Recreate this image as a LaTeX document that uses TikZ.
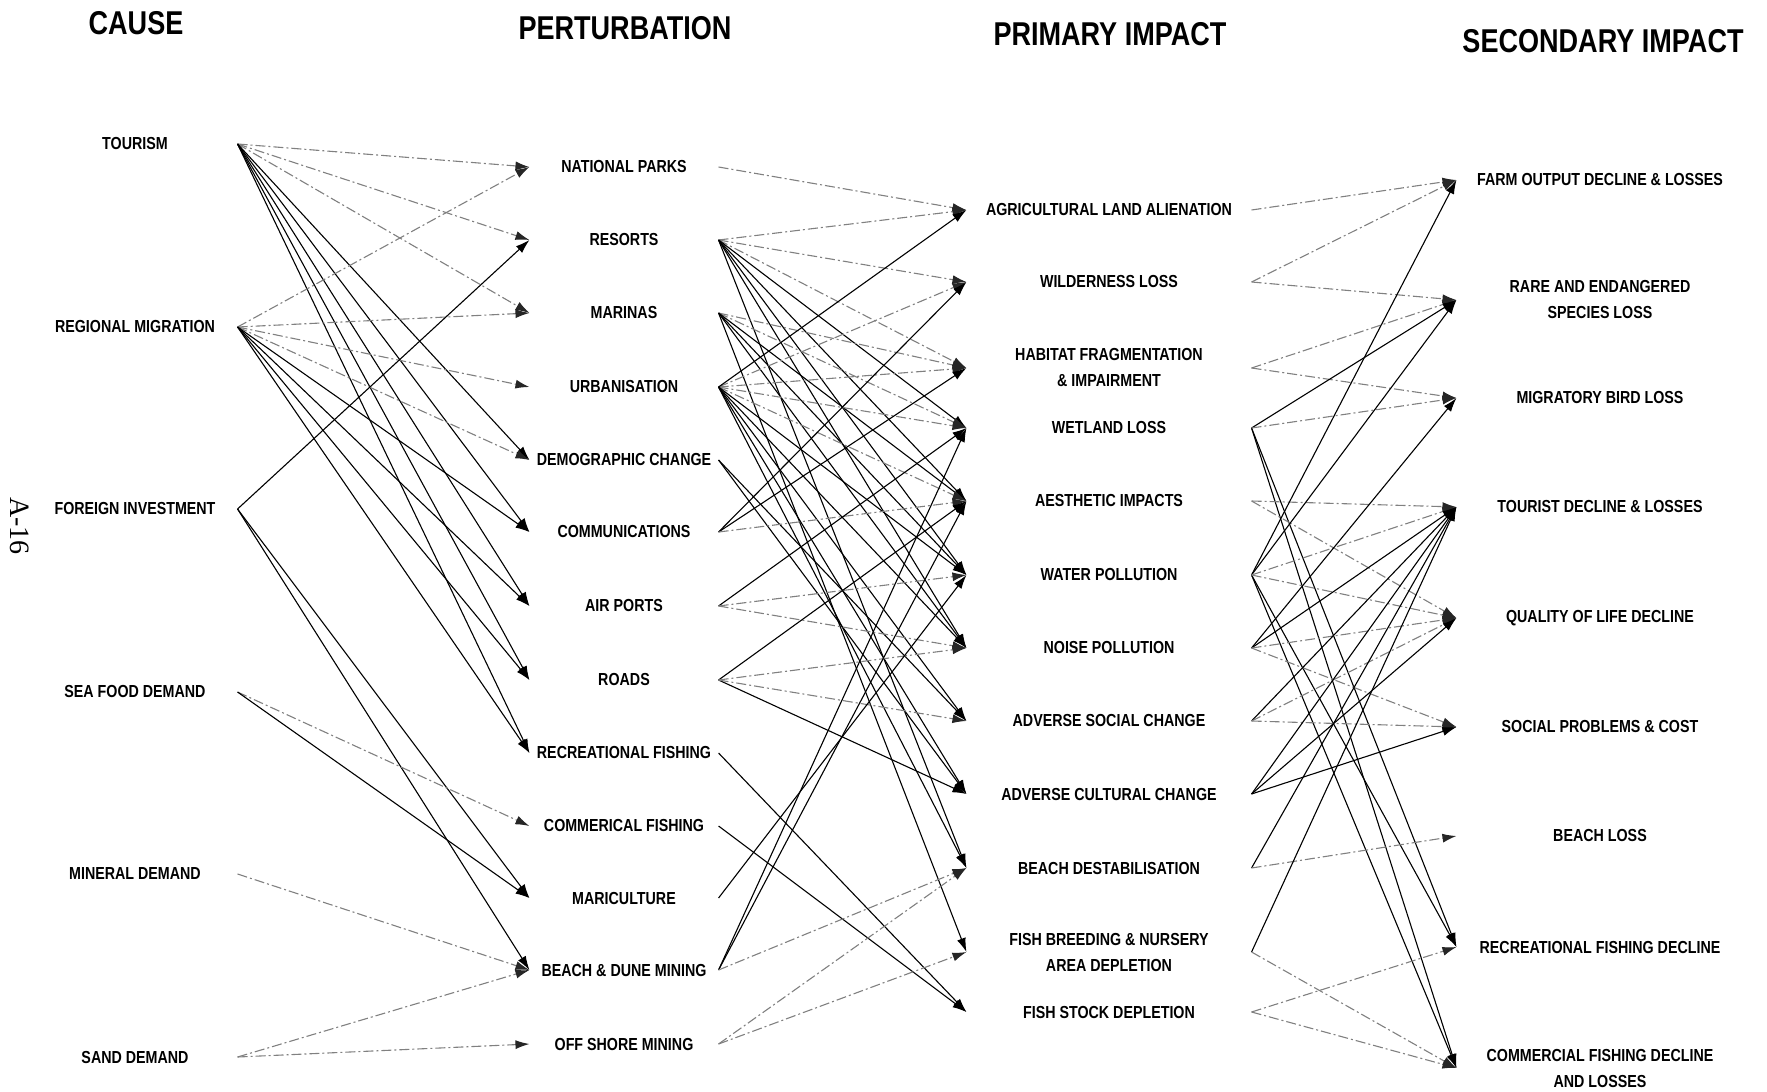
\documentclass[tikz,border=0pt]{standalone}
\usepackage{fontspec}
\newfontfamily\plotter{Liberation Sans}[FakeStretch=0.82]
\newfontfamily\pagefont{Liberation Serif}
\usetikzlibrary{arrows.meta}

\tikzset{every picture/.style={line width=0.55pt}}
\tikzset{
  heading/.style={font=\plotter\bfseries\fontsize{16.5}{18}\selectfont, inner sep=0pt},
  tag/.style={font=\plotter\bfseries\fontsize{8.7}{13}\selectfont, align=center, inner sep=0pt},
  causebox/.style={tag, minimum width=102pt},
  pertbox/.style={tag, minimum width=94pt},
  primbox/.style={tag, minimum width=142pt},
  secbox/.style={tag, minimum width=143pt},
  link/.style={-{Latex[length=7pt,width=4.5pt]}, color=black},
  faint/.style={-{Latex[length=7pt,width=4.5pt,color=black!85]}, color=black!50, dash pattern=on 5pt off 1.5pt on 1pt off 1.5pt}
}

\begin{document}
\begin{tikzpicture}[x=0.5pt,y=0.5pt,yscale=-1,xscale=1]
\useasboundingbox (0,0) rectangle (1767,1092);

% Headings
\node [heading] (hcause) at (136,23) {CAUSE};
\node [heading] (hpert) at (625,28) {PERTURBATION};
\node [heading] (hprim) at (1110,34) {PRIMARY IMPACT};
\node [heading] (hsec) at (1603,41) {SECONDARY IMPACT};
\node [font=\pagefont\fontsize{14}{16}\selectfont, rotate=-90, inner sep=0pt] (pageno) at (20,526) {A-16};

% Cause
\node [causebox] (tour) at (135,144) {TOURISM};
\node [causebox] (regmig) at (135,327) {REGIONAL MIGRATION};
\node [causebox] (forinv) at (135,509) {FOREIGN INVESTMENT};
\node [causebox] (seafood) at (135,692) {SEA FOOD DEMAND};
\node [causebox] (mineral) at (135,874) {MINERAL DEMAND};
\node [causebox] (sand) at (135,1057) {SAND DEMAND};

% Perturbation
\node [pertbox] (natpark) at (624,167) {NATIONAL PARKS};
\node [pertbox] (resort) at (624,240) {RESORTS};
\node [pertbox] (marina) at (624,313) {MARINAS};
\node [pertbox] (urban) at (624,387) {URBANISATION};
\node [pertbox] (demog) at (624,460) {DEMOGRAPHIC CHANGE};
\node [pertbox] (comm) at (624,532) {COMMUNICATIONS};
\node [pertbox] (airport) at (624,606) {AIR PORTS};
\node [pertbox] (road) at (624,680) {ROADS};
\node [pertbox] (recfish) at (624,753) {RECREATIONAL FISHING};
\node [pertbox] (comfish) at (624,826) {COMMERICAL FISHING};
\node [pertbox] (maricult) at (624,898) {MARICULTURE};
\node [pertbox] (beachmin) at (624,970) {BEACH \& DUNE MINING};
\node [pertbox] (offshore) at (624,1044) {OFF SHORE MINING};

% Primary impact
\node [primbox] (agric) at (1109,210) {AGRICULTURAL LAND ALIENATION};
\node [primbox] (wild) at (1109,282) {WILDERNESS LOSS};
\node [primbox] (habitat) at (1109,368) {HABITAT FRAGMENTATION\\\& IMPAIRMENT};
\node [primbox] (wetland) at (1109,428) {WETLAND LOSS};
\node [primbox] (aesth) at (1109,501) {AESTHETIC IMPACTS};
\node [primbox] (waterpol) at (1109,575) {WATER POLLUTION};
\node [primbox] (noisepol) at (1109,648) {NOISE POLLUTION};
\node [primbox] (socchg) at (1109,721) {ADVERSE SOCIAL CHANGE};
\node [primbox] (culchg) at (1109,794) {ADVERSE CULTURAL CHANGE};
\node [primbox] (beachdest) at (1109,868) {BEACH DESTABILISATION};
\node [primbox] (fishbreed) at (1109,952) {FISH BREEDING \& NURSERY\\AREA DEPLETION};
\node [primbox] (fishstock) at (1109,1012) {FISH STOCK DEPLETION};

% Secondary impact
\node [secbox] (farm) at (1600,180) {FARM OUTPUT DECLINE \& LOSSES};
\node [secbox] (rare) at (1600,300) {RARE AND ENDANGERED\\SPECIES LOSS};
\node [secbox] (migbird) at (1600,398) {MIGRATORY BIRD LOSS};
\node [secbox] (tourist) at (1600,507) {TOURIST DECLINE \& LOSSES};
\node [secbox] (quality) at (1600,618) {QUALITY OF LIFE DECLINE};
\node [secbox] (socprob) at (1600,727) {SOCIAL PROBLEMS \& COST};
\node [secbox] (beachloss) at (1600,836) {BEACH LOSS};
\node [secbox] (recdecl) at (1600,947) {RECREATIONAL FISHING DECLINE};
\node [secbox] (comdecl) at (1600,1068) {COMMERCIAL FISHING DECLINE\\AND LOSSES};

% Cause -> perturbation
\path [faint] (tour.east) edge (natpark.west) edge (resort.west) edge (marina.west);
\path [link] (tour.east) edge (demog.west) edge (comm.west) edge (airport.west) edge (road.west) edge (recfish.west);
\path [faint] (regmig.east) edge (natpark.west) edge (marina.west) edge (urban.west) edge (demog.west);
\path [link] (regmig.east) edge (comm.west) edge (airport.west) edge (road.west) edge (recfish.west);
\path [link] (forinv.east) edge (resort.west) edge (maricult.west) edge (beachmin.west);
\path [faint] (seafood.east) edge (comfish.west);
\path [link] (seafood.east) edge (maricult.west);
\path [faint] (mineral.east) edge (beachmin.west);
\path [faint] (sand.east) edge (beachmin.west) edge (offshore.west);

% Perturbation -> primary impact
\path [faint] (natpark.east) edge (agric.west);
\path [faint] (resort.east) edge (agric.west) edge (wild.west) edge (habitat.west);
\path [link] (resort.east) edge (wetland.west) edge (aesth.west) edge (waterpol.west) edge (noisepol.west) edge (beachdest.west);
\path [faint] (marina.east) edge (habitat.west) edge (wetland.west);
\path [link] (marina.east) edge (aesth.west) edge (waterpol.west) edge (noisepol.west) edge (fishbreed.west);
\path [faint] (urban.east) edge (wild.west) edge (habitat.west) edge (wetland.west) edge (aesth.west);
\path [link] (urban.east) edge (agric.west) edge (waterpol.west) edge (noisepol.west) edge (socchg.west) edge (culchg.west) edge (beachdest.west);
\path [link] (demog.east) edge (socchg.west) edge (culchg.west);
\path [link] (comm.east) edge (wild.west) edge (habitat.west);
\path [faint] (comm.east) edge (aesth.west);
\path [link] (airport.east) edge (wetland.west);
\path [faint] (airport.east) edge (waterpol.west) edge (noisepol.west);
\path [link] (road.east) edge (aesth.west) edge (culchg.west);
\path [faint] (road.east) edge (noisepol.west) edge (socchg.west);
\path [link] (recfish.east) edge (fishstock.west);
\path [link] (comfish.east) edge (fishstock.west);
\path [link] (maricult.east) edge (waterpol.west);
\path [link] (beachmin.east) edge (wetland.west) edge (aesth.west);
\path [faint] (beachmin.east) edge (beachdest.west);
\path [faint] (offshore.east) edge (beachdest.west) edge (fishbreed.west);

% Primary -> secondary impact
\path [faint] (agric.east) edge (farm.west);
\path [faint] (wild.east) edge (farm.west) edge (rare.west);
\path [faint] (habitat.east) edge (rare.west) edge (migbird.west);
\path [link] (wetland.east) edge (rare.west) edge (recdecl.west) edge (comdecl.west);
\path [faint] (wetland.east) edge (migbird.west);
\path [faint] (aesth.east) edge (tourist.west) edge (quality.west);
\path [link] (waterpol.east) edge (farm.west) edge (rare.west) edge (recdecl.west) edge (comdecl.west);
\path [faint] (waterpol.east) edge (tourist.west) edge (quality.west);
\path [link] (noisepol.east) edge (migbird.west) edge (tourist.west);
\path [faint] (noisepol.east) edge (quality.west) edge (socprob.west);
\path [link] (socchg.east) edge (tourist.west);
\path [faint] (socchg.east) edge (quality.west) edge (socprob.west);
\path [link] (culchg.east) edge (tourist.west) edge (quality.west) edge (socprob.west);
\path [link] (beachdest.east) edge (tourist.west);
\path [faint] (beachdest.east) edge (beachloss.west);
\path [link] (fishbreed.east) edge (tourist.west);
\path [faint] (fishbreed.east) edge (comdecl.west);
\path [faint] (fishstock.east) edge (recdecl.west) edge (comdecl.west);

\end{tikzpicture}
\end{document}
